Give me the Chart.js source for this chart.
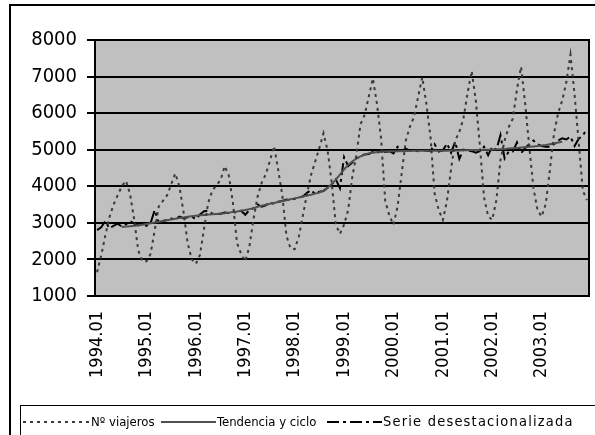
<!DOCTYPE html>
<html>
<head>
<meta charset="utf-8">
<script src="https://cdn.jsdelivr.net/npm/chart.js@4/dist/chart.umd.min.js"></script>
<style>
  html, body { margin: 0; padding: 0; background: #fff; }
  #wrap { position: relative; width: 595px; height: 435px; overflow: hidden; }
  #frame { position: absolute; left: 9px; top: 4px; width: 620px; height: 460px; border: 2px solid #000; box-sizing: border-box; }
  #c { position: absolute; left: 0; top: 0; }
  #legend { position: absolute; left: 20px; top: 405px; width: 620px; height: 60px; border: 1px solid #000; box-sizing: border-box;
            font-family: "DejaVu Sans Condensed", "DejaVu Sans", sans-serif; font-size: 13px; color: #000; }
  .it { position: absolute; top: 8px; white-space: nowrap; }
</style>
</head>
<body>
<div id="wrap">
  <div id="frame"></div>
  <canvas id="c" width="595" height="435"></canvas>
  <div id="legend"></div>
</div>
<script>
// ---- data ----
const years = [1994, 1995, 1996, 1997, 1998, 1999, 2000, 2001, 2002, 2003];
const months = ["01","02","03","04","05","06","07","08","09","10","11","12"];
const categories = [];
years.forEach(y => months.forEach(m => categories.push(y + "." + m)));

const viajeros = [
  1650, 2100, 2650, 3150, 3500, 3750, 4000, 4150, 3800, 3100, 2250, 1950,
  1950, 2150, 2800, 3450, 3600, 3750, 4050, 4350, 4000, 3300, 2450, 2000,
  1880, 2120, 2850, 3550, 3880, 4030, 4170, 4550, 4300, 3550, 2450, 2150,
  1950, 2350, 3100, 3720, 4100, 4330, 4700, 5100, 4450, 3750, 2650, 2300,
  2280, 2620, 3200, 3800, 4320, 4680, 5050, 5450, 4980, 4100, 2950, 2700,
  2950, 3350, 4260, 4850, 5700, 5950, 6450, 6950, 6250, 5300, 3600, 3200,
  2950, 3450, 4350, 5250, 5630, 5900, 6450, 6980, 6250, 5350, 3800, 3350,
  3080, 3600, 4480, 5250, 5490, 5850, 6550, 7150, 6350, 5100, 3700, 3180,
  3080, 3620, 4720, 5250, 5620, 5850, 6650, 7270, 6250, 5080, 3950, 3350,
  3170, 3520, 4450, 5450, 6000, 6350, 6850, 7600, 6500, 5200, 3880, 3620
];

const tendencia = [
  null, null, null, null, null, null, 2890, 2900, 2910, 2920, 2935, 2950,
  2970, 2990, 3010, 3030, 3050, 3070, 3090, 3110, 3130, 3150, 3165, 3180,
  3195, 3205, 3215, 3225, 3235, 3245, 3255, 3265, 3280, 3295, 3310, 3330,
  3350, 3375, 3400, 3440, 3470, 3495, 3520, 3545, 3570, 3595, 3620, 3645,
  3670, 3695, 3720, 3745, 3770, 3800, 3830, 3880, 3960, 4060, 4180, 4320,
  4460, 4580, 4680, 4760, 4820, 4870, 4900, 4920, 4935, 4945, 4950, 4955,
  4960, 4960, 4965, 4965, 4965, 4970, 4970, 4970, 4970, 4975, 4975, 4975,
  4975, 4975, 4980, 4980, 4980, 4985, 4985, 4990, 4990, 4995, 5000, 5000,
  5005, 5010, 5015, 5020, 5030, 5040, 5050, 5060, 5070, 5080, 5090, 5100,
  5115, 5130, 5150, 5170, 5195, 5220, null, null, null, null, null, null
];

const desestacionalizada = [
  2800, 2880, 3050, 2850, 2920, 2980, 2900, 2960, 3050, 2980, 2930, 2960,
  2920, 2990, 3350, 3000, 3050, 3080, 3120, 3100, 3170, 3130, 3150, 3170,
  3100, 3230, 3320, 3330, 3250, 3240, 3250, 3280, 3270, 3300, 3280, 3330,
  3220, 3350, 3400, 3500, 3440, 3480, 3560, 3520, 3580, 3600, 3640, 3620,
  3660, 3700, 3720, 3820, 3900, 3780, 3850, 3870, 3960, 4050, 4190, 3950,
  4800, 4550, 4650, 4760, 4820, 4870, 4880, 4940, 4920, 4960, 4940, 4960,
  4900, 5080, 4960, 5030, 4970, 4980, 4960, 4990, 4970, 4960, 5150, 4950,
  4980, 5170, 4920, 5220, 4750, 5000, 4980, 4960, 4920, 4960, 5080, 4850,
  5080, 5000, 5400, 4760, 4950, 4950, 5200, 4900, 5050, 5150, 5250, 5150,
  5100, 5080, 5080, 5150, 5250, 5310, 5280, 5360, 5100, 5300, 5380, 5580
];

const yTicks = [1000, 2000, 3000, 4000, 5000, 6000, 7000, 8000];
const seriesNames = ["Nº viajeros", "Tendencia y ciclo", "Serie desestacionalizada"];

// ---- styles ----
const FAMILY = '"DejaVu Sans Condensed", "DejaVu Sans", sans-serif';
const Y_FONT = { family: FAMILY, size: 20 };
const X_FONT = { family: FAMILY, size: 18 };
const styles = [
  { color: '#3a3a3a', width: 2, dash: [3, 4] },
  { color: '#505050', width: 2, dash: [] },
  { color: '#000000', width: 2, dash: [12, 4, 3, 4] }
];

const plotDecor = {
  id: 'plotDecor',
  beforeDraw(chart) {
    const a = chart.chartArea, ctx = chart.ctx;
    ctx.save();
    ctx.fillStyle = '#c0c0c0';
    ctx.fillRect(a.left, a.top, a.right - a.left, a.bottom - a.top);
    ctx.restore();
  },
  afterDraw(chart) {
    const a = chart.chartArea, ctx = chart.ctx;
    ctx.save();
    ctx.strokeStyle = '#000';
    ctx.lineWidth = 2;
    ctx.strokeRect(a.left, a.top, a.right - a.left, a.bottom - a.top);
    ctx.restore();
  }
};

function zeroPad(s) { s.paddingLeft = 0; s.paddingRight = 0; s.paddingTop = 0; s.paddingBottom = 0; }

const allData = [viajeros, tendencia, desestacionalizada];
new Chart(document.getElementById('c'), {
  type: 'line',
  data: {
    labels: categories,
    datasets: allData.map((d, i) => ({
      label: seriesNames[i],
      data: d,
      borderColor: styles[i].color,
      borderWidth: styles[i].width,
      borderDash: styles[i].dash,
      pointRadius: 0,
      tension: 0,
      fill: false,
      spanGaps: false
    }))
  },
  options: {
    responsive: false,
    animation: false,
    devicePixelRatio: 1,
    layout: { padding: { left: 0, top: 40, right: 6, bottom: 0 } },
    plugins: { legend: { display: false }, tooltip: { enabled: false } },
    scales: {
      x: {
        type: 'category',
        offset: true,
        grid: { display: false, drawTicks: false },
        border: { display: false },
        ticks: {
          autoSkip: false, maxRotation: 90, minRotation: 90, padding: 15,
          color: '#000', font: X_FONT,
          callback: function(v, i) { return i % 12 === 0 ? categories[i] : ''; }
        },
        afterFit(s) { s.height = 139; zeroPad(s); }
      },
      y: {
        min: yTicks[0], max: yTicks[yTicks.length - 1],
        afterBuildTicks(s) { s.ticks = yTicks.map(v => ({ value: v })); },
        grid: { color: '#000', lineWidth: 2, tickLength: 8, tickColor: '#000', tickWidth: 2 },
        border: { display: false },
        ticks: { color: '#000', font: Y_FONT, padding: 10, callback: v => String(v) },
        afterFit(s) { s.width = 95; zeroPad(s); }
      }
    }
  },
  plugins: [plotDecor]
});

// ---- HTML legend ----
const legend = document.getElementById('legend');
const legendPos = [
  { sx: 2, sw: 66, tx: 70, ls: 0, fs: 13 },
  { sx: 140, sw: 55, tx: 196, ls: 0, fs: 13 },
  { sx: 306, sw: 55, tx: 362, ls: 1.2, fs: 14.5 }
];
seriesNames.forEach((name, i) => {
  const p = legendPos[i], st = styles[i];
  const sv = document.createElementNS('http://www.w3.org/2000/svg', 'svg');
  sv.setAttribute('width', p.sw); sv.setAttribute('height', 18);
  sv.style.position = 'absolute'; sv.style.left = p.sx + 'px'; sv.style.top = '7px';
  const ln = document.createElementNS('http://www.w3.org/2000/svg', 'line');
  ln.setAttribute('x1', 0); ln.setAttribute('x2', p.sw); ln.setAttribute('y1', 9); ln.setAttribute('y2', 9);
  ln.setAttribute('stroke', st.color); ln.setAttribute('stroke-width', st.width);
  if (st.dash.length) ln.setAttribute('stroke-dasharray', st.dash.join(' '));
  sv.appendChild(ln);
  legend.appendChild(sv);
  const t = document.createElement('div');
  t.className = 'it'; t.style.left = p.tx + 'px'; t.style.letterSpacing = p.ls + 'px';
  t.style.fontSize = p.fs + 'px'; t.style.top = (p.fs > 13 ? 7 : 8) + 'px';
  t.textContent = name;
  legend.appendChild(t);
});
</script>
</body>
</html>
